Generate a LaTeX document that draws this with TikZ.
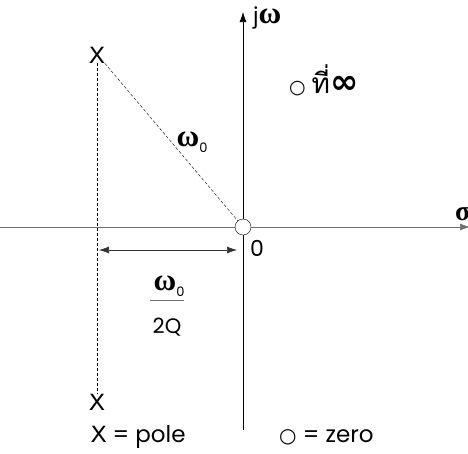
\documentclass[tikz,border=0pt]{standalone}
\usepackage{fontspec}
\setmainfont{Poppins}
\newfontfamily\thaifont[Script=Thai]{Loma}
\newfontfamily\symfont{DejaVu Sans}
\newfontfamily\omegafont{Liberation Serif}
\usetikzlibrary{arrows.meta}
\definecolor{AxisGray}{HTML}{6E6E6E}
\definecolor{DimGray}{HTML}{333333}
\newcommand{\omg}{{\omegafont\bfseries\fontsize{31}{33}\selectfont ω}}
\newcommand{\sub}[1]{\raisebox{-6pt}{\fontsize{13}{14}\selectfont #1}}

\begin{document}
\begin{tikzpicture}[
  x=1pt, y=-1pt,
  axis/.style={-{Latex[length=10pt,width=7pt]}, semithick},
  guide/.style={densely dashed, thin},
  dim/.style={{Latex[length=10pt,width=7pt]}-{Latex[length=10pt,width=7pt]}, semithick, DimGray},
  lbl/.style={inner sep=0pt, font=\fontsize{22}{24}\selectfont}
]
\useasboundingbox (0,0) rectangle (468,453);
\draw[axis, AxisGray] (0,227) -- (470,227);
\draw[axis] (243,430) -- (243,12);
\node[lbl, anchor=west, font=\fontsize{28}{30}\selectfont\omegafont\bfseries] (sigma) at (455,213) {σ};
\node[lbl, anchor=west] (jw) at (253,18) {j\omg};
\node[lbl, font=\fontsize{23}{25}\selectfont\thaifont] (pup) at (97,55) {X};
\node[lbl, font=\fontsize{23}{25}\selectfont\thaifont] (pdown) at (97,402) {X};
\node[circle, draw, fill=white, minimum size=16pt, inner sep=0pt] (zero) at (243,227) {};
\draw[guide] (pup.south) -- (pdown.north);
\draw[guide] (pup.south east) -- (zero);
\node[lbl] (w0) at (192,142) {\omg\sub{0}};
\node[lbl, anchor=west] (orig) at (250,248) {0};
\coordinate (dl) at (99,250);
\coordinate (dr) at (237,250);
\draw[dim] (dl) -- (dr);
\node[lbl] (fracnum) at (169,286) {\omg\sub{0}};
\draw[AxisGray, thick] (150,300) -- (184,300);
\node[lbl, font=\fontsize{21}{23}\selectfont] (fracden) at (167,327) {2Q};
\node[lbl, anchor=west] (inf) at (289,80) {{\symfont\fontsize{19}{21}\selectfont ○} {\thaifont\fontsize{28}{30}\selectfont ที่}{\fontsize{34}{36}\selectfont\bfseries\symfont ∞}};
\node[lbl, anchor=west, font=\fontsize{23}{25}\selectfont] (poleleg) at (91,437) {{\thaifont X} = pole};
\node[lbl, anchor=west, font=\fontsize{23}{25}\selectfont] (zeroleg) at (279,437) {{\symfont\fontsize{20}{22}\selectfont ○} = zero};
\end{tikzpicture}
\end{document}
